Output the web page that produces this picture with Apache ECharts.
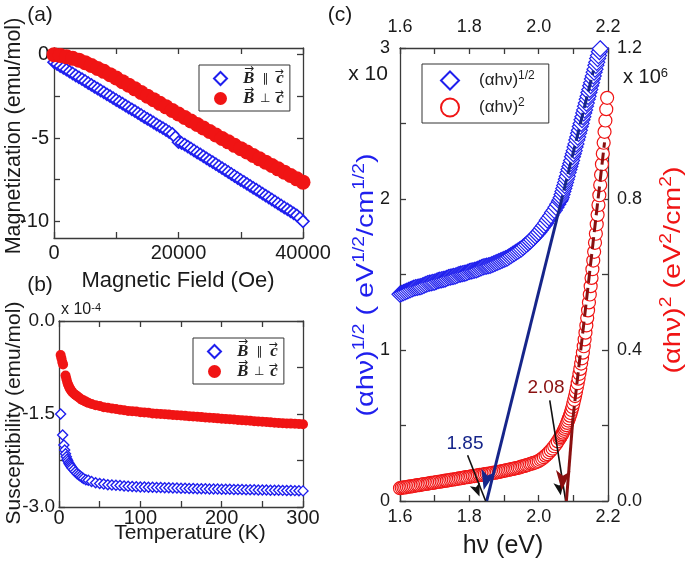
<!DOCTYPE html>
<html>
<head>
<meta charset="utf-8">
<script src="https://cdn.jsdelivr.net/npm/echarts@6/dist/echarts.min.js"></script>
<style>
  html, body { margin: 0; padding: 0; background: #fff; }
  #chart { width: 685px; height: 561px; }
</style>
</head>
<body>
<div id="chart"></div>
<script>
// ---- (a) magnetization vs field, emu/mol ----
var fieldPar = [0, 500, 1000, 1500, 2000, 2500, 3000, 3500, 4000, 4500, 5000, 5500, 6000, 6500,
  7000, 7500, 8000, 8500, 9000, 9500, 10000, 10500, 11000, 11500, 12000, 12500, 13000, 13500,
  14000, 14500, 15000, 15500, 16000, 16500, 17000, 17500, 18000, 18500, 19000, 19500, 20000,
  20500, 21000, 21500, 22000, 22500, 23000, 23500, 24000, 24500, 25000, 25500, 26000, 26500,
  27000, 27500, 28000, 28500, 29000, 29500, 30000, 30500, 31000, 31500, 32000, 32500, 33000,
  33500, 34000, 34500, 35000, 35500, 36000, 36500, 37000, 37500, 38000, 38500, 39000, 39500, 40000];
var magPar = [-0.45, -0.56, -0.68, -0.79, -0.9, -1.02, -1.13, -1.25, -1.36, -1.47, -1.58, -1.7,
  -1.81, -1.93, -2.04, -2.15, -2.26, -2.38, -2.49, -2.61, -2.72, -2.83, -2.94, -3.06, -3.17,
  -3.28, -3.39, -3.51, -3.62, -3.74, -3.85, -3.96, -4.07, -4.19, -4.3, -4.41, -4.52, -4.64,
  -4.75, -4.95, -5.25, -5.3, -5.4, -5.52, -5.63, -5.75, -5.87, -5.98, -6.1, -6.22, -6.34,
  -6.45, -6.57, -6.69, -6.81, -6.92, -7.04, -7.16, -7.28, -7.4, -7.52, -7.63, -7.75, -7.87,
  -7.99, -8.1, -8.22, -8.34, -8.46, -8.57, -8.69, -8.81, -8.93, -9.05, -9.17, -9.28, -9.4,
  -9.52, -9.64, -9.8, -10.0];
var fieldPerp = [0, 1000, 2000, 3000, 4000, 5000, 6000, 7000, 8000, 9000, 10000,
  11000, 12000, 13000, 14000, 15000, 16000, 17000, 18000, 19000, 20000,
  21000, 22000, 23000, 24000, 25000, 26000, 27000, 28000, 29000, 30000,
  31000, 32000, 33000, 34000, 35000, 36000, 37000, 38000, 39000, 40000];
var magPerp = [0, -0.05, -0.12, -0.22, -0.33, -0.48, -0.65, -0.83, -1.0, -1.2, -1.4,
  -1.62, -1.83, -2.05, -2.27, -2.49, -2.7, -2.92, -3.13, -3.35, -3.56,
  -3.77, -3.98, -4.19, -4.4, -4.61, -4.82, -5.03, -5.23, -5.44, -5.64,
  -5.84, -6.05, -6.25, -6.45, -6.65, -6.85, -7.05, -7.25, -7.45, -7.65];

// ---- (b) susceptibility vs temperature, x 1e-4 emu/mol ----
var tempPar = [2, 4.5, 6, 7, 8, 9, 10, 11, 12, 13, 14, 15, 16, 18, 20, 22, 24, 26, 28, 30,
  33, 36, 40, 45, 50, 55, 60, 65, 70, 75, 80, 85, 90, 95, 100,
  105, 110, 115, 120, 125, 130, 135, 140, 145, 150, 155, 160, 165, 170, 175, 180,
  185, 190, 195, 200, 205, 210, 215, 220, 225, 230, 235, 240, 245, 250, 255, 260,
  265, 270, 275, 280, 285, 290, 295, 300];
var chiPar = [-1.5, -1.84, -2.0, -2.08, -2.14, -2.19, -2.23, -2.26, -2.29, -2.31, -2.33, -2.35,
  -2.37, -2.4, -2.43, -2.46, -2.48, -2.5, -2.52, -2.54, -2.56, -2.57, -2.59, -2.61, -2.62,
  -2.63, -2.64, -2.645, -2.65, -2.655, -2.66, -2.665, -2.67, -2.673, -2.676,
  -2.678, -2.68, -2.682, -2.684, -2.686, -2.688, -2.69, -2.692, -2.694, -2.696, -2.698,
  -2.7, -2.702, -2.704, -2.705, -2.706, -2.708, -2.709, -2.71, -2.712, -2.713, -2.714,
  -2.716, -2.717, -2.718, -2.72, -2.721, -2.722, -2.724, -2.725, -2.726, -2.728, -2.729,
  -2.73, -2.732, -2.733, -2.735, -2.736, -2.738, -2.74];
var tempPerp = [2, 3, 4, 5, 8, 9, 10, 11, 12, 13, 14, 15, 16, 18, 20, 22, 24, 26, 28, 30,
  33, 36, 40, 45, 50, 55, 60, 65, 70, 75, 80, 85, 90, 95, 100,
  105, 110, 115, 120, 125, 130, 135, 140, 145, 150, 155, 160, 165, 170, 175, 180,
  185, 190, 195, 200, 205, 210, 215, 220, 225, 230, 235, 240, 245, 250, 255, 260,
  265, 270, 275, 280, 285, 290, 295, 300];
var chiPerp = [-0.55, -0.6, -0.66, -0.7, -0.88, -0.93, -0.98, -1.02, -1.05, -1.08, -1.1, -1.12,
  -1.14, -1.17, -1.19, -1.21, -1.23, -1.25, -1.27, -1.28, -1.3, -1.32, -1.34, -1.36, -1.37,
  -1.39, -1.4, -1.41, -1.42, -1.43, -1.44, -1.45, -1.455, -1.46, -1.47,
  -1.475, -1.48, -1.49, -1.495, -1.5, -1.505, -1.51, -1.515, -1.52, -1.525, -1.53,
  -1.535, -1.54, -1.545, -1.55, -1.555, -1.56, -1.565, -1.57, -1.575, -1.58, -1.585,
  -1.59, -1.595, -1.6, -1.605, -1.61, -1.615, -1.62, -1.625, -1.63, -1.635, -1.64,
  -1.645, -1.65, -1.652, -1.655, -1.658, -1.66, -1.665];

// ---- (c) Tauc plot: photon energy (eV) ----
var energy = [1.600, 1.605, 1.610, 1.615, 1.620, 1.625, 1.630, 1.635, 1.640, 1.645, 1.650,
  1.655, 1.660, 1.665, 1.670, 1.675, 1.680, 1.685, 1.690, 1.695, 1.700, 1.705, 1.710, 1.715,
  1.720, 1.725, 1.730, 1.735, 1.740, 1.745, 1.750, 1.755, 1.760, 1.765, 1.770, 1.775, 1.780,
  1.785, 1.790, 1.795, 1.800, 1.805, 1.810, 1.815, 1.820, 1.825, 1.830, 1.835, 1.840, 1.845,
  1.850, 1.855, 1.860, 1.865, 1.870, 1.875, 1.880, 1.885, 1.890, 1.895, 1.900, 1.905, 1.910,
  1.915, 1.920, 1.925, 1.930, 1.935, 1.940, 1.945, 1.950, 1.955, 1.960, 1.965, 1.970, 1.975,
  1.980, 1.985, 1.990, 1.995, 2.000,
  2.005, 2.01, 2.015, 2.02, 2.025, 2.03, 2.035, 2.04, 2.045, 2.05, 2.055, 2.06,
  2.0625, 2.065, 2.0675, 2.07, 2.0725, 2.075, 2.0775, 2.08, 2.0825, 2.085, 2.0875, 2.09,
  2.0925, 2.095, 2.0975, 2.10, 2.1025, 2.105, 2.1075, 2.11, 2.1125, 2.115, 2.1175, 2.12,
  2.1225, 2.125, 2.1275, 2.13, 2.1325, 2.135, 2.1375, 2.14, 2.1425, 2.145, 2.1475, 2.15,
  2.1525, 2.155, 2.1575, 2.16, 2.1625, 2.165, 2.1675, 2.17, 2.1725, 2.175, 2.1775, 2.18,
  2.1825, 2.185, 2.1875, 2.19, 2.1925, 2.195, 2.1975];
// (ahv)^1/2, units of 10 eV^1/2/cm^1/2
var ahvHalf = [1.37, 1.375, 1.38, 1.385, 1.39, 1.395, 1.40, 1.405, 1.41, 1.413, 1.415,
  1.418, 1.42, 1.425, 1.43, 1.435, 1.44, 1.443, 1.445, 1.448, 1.45, 1.455, 1.46, 1.463,
  1.465, 1.468, 1.47, 1.475, 1.48, 1.483, 1.485, 1.488, 1.49, 1.495, 1.50, 1.503, 1.505,
  1.508, 1.51, 1.515, 1.52, 1.523, 1.525, 1.528, 1.53, 1.535, 1.54, 1.545, 1.55, 1.553,
  1.555, 1.558, 1.56, 1.565, 1.57, 1.575, 1.58, 1.585, 1.59, 1.595, 1.60, 1.605, 1.61,
  1.618, 1.625, 1.633, 1.64, 1.648, 1.655, 1.663, 1.67, 1.68, 1.69, 1.70, 1.71, 1.72,
  1.73, 1.743, 1.755, 1.768, 1.78,
  1.795, 1.81, 1.825, 1.84, 1.86, 1.875, 1.89, 1.91, 1.925, 1.945, 1.965, 1.985,
  1.995, 2.01, 2.03, 2.05, 2.07, 2.09, 2.11, 2.13, 2.15, 2.175, 2.195, 2.215,
  2.235, 2.255, 2.28, 2.30, 2.32, 2.345, 2.365, 2.39, 2.41, 2.435, 2.455, 2.48,
  2.50, 2.525, 2.545, 2.57, 2.59, 2.615, 2.635, 2.66, 2.68, 2.705, 2.725, 2.75,
  2.77, 2.795, 2.815, 2.84, 2.86, 2.885, 2.905, 2.93, 2.95, 2.975, 2.995, 3.02,
  3.04, 3.065, 3.085, 3.11, 3.13, 3.155, 3.18];
// (ahv)^2, units of 1e6 eV^2/cm^2
var ahvSq = [0.034, 0.035, 0.036, 0.036, 0.037, 0.038, 0.039, 0.039, 0.040, 0.041, 0.042,
  0.042, 0.043, 0.044, 0.045, 0.045, 0.046, 0.047, 0.048, 0.048, 0.049, 0.050, 0.051, 0.051,
  0.052, 0.053, 0.054, 0.054, 0.055, 0.056, 0.057, 0.057, 0.058, 0.059, 0.060, 0.060, 0.061,
  0.062, 0.063, 0.063, 0.064, 0.065, 0.066, 0.066, 0.067, 0.068, 0.069, 0.069, 0.070, 0.071,
  0.072, 0.072, 0.073, 0.074, 0.075, 0.075, 0.076, 0.077, 0.078, 0.079, 0.080, 0.081, 0.082,
  0.083, 0.084, 0.085, 0.086, 0.087, 0.088, 0.089, 0.091, 0.092, 0.093, 0.095, 0.096, 0.098,
  0.099, 0.101, 0.102, 0.104, 0.106,
  0.109, 0.112, 0.116, 0.120, 0.124, 0.129, 0.134, 0.139, 0.145, 0.151, 0.158, 0.165,
  0.169, 0.173, 0.177, 0.181, 0.186, 0.191, 0.196, 0.201, 0.207, 0.213, 0.219, 0.226,
  0.233, 0.241, 0.249, 0.258, 0.268, 0.278, 0.289, 0.300, 0.312, 0.324, 0.337, 0.350,
  0.364, 0.378, 0.393, 0.410, 0.428, 0.446, 0.465, 0.485, 0.505, 0.526, 0.547, 0.569,
  0.591, 0.614, 0.637, 0.660, 0.684, 0.708, 0.733, 0.758, 0.784, 0.810, 0.837, 0.864,
  0.892, 0.920, 0.949, 0.978, 1.008, 1.038, 1.068];

// linear fits [eV, value]: x-intercept, end of extrapolation, top of fit
var fitHalf = [[1.85, 0], [2.061, 1.947], [2.158, 2.85]];
var fitSq = [[2.08, 0], [2.099, 0.22], [2.19, 0.95]];
// black pointer arrows (left-axis units)
var pointer185 = [[1.795, 0.303], [1.847, 0]];
var pointer208 = [[2.032, 0.667], [2.078, 0]];
var gapLabels = ['1.85', '2.08'];

var FONT = 'Liberation Sans';
var AX = '#3a3a3a';
var BLUE = '#1f1fee', RED = '#f01414', NAVY = '#16258a', MAROON = '#8a1010';

function zip(xs, ys) {
  return xs.map(function (x, i) { return [x, ys[i]]; });
}

function valueAxis(o) {
  var ax = {
    type: 'value', gridIndex: o.grid, position: o.pos,
    min: o.min, max: o.max, interval: o.interval,
    axisLine: { show: true, onZero: false, lineStyle: { color: AX, width: 1.3 } },
    axisTick: { show: true, inside: true, length: 6, lineStyle: { color: AX, width: 1.3 } },
    splitLine: { show: false },
    axisLabel: {
      show: !!(o.fmt || o.labels), margin: o.margin, fontSize: o.size,
      fontFamily: FONT, color: '#1a1a1a', formatter: o.fmt
    }
  };
  if (o.ticks) ax.axisTick.customValues = o.ticks;
  if (o.labels) ax.axisLabel.customValues = o.labels;
  return ax;
}

var evenTenth = function (v) { return Math.round(v * 10) % 2 === 0 ? v.toFixed(1) : ''; };

function txt(text, x, y, size, color, extra) {
  var el = {
    type: 'text', x: x, y: y, silent: true,
    style: {
      text: text, fontSize: size, fontFamily: FONT, fill: color || '#1a1a1a',
      align: 'center', verticalAlign: 'middle'
    }
  };
  if (extra) {
    for (var k in extra.el || {}) el[k] = extra.el[k];
    for (var s in extra.style || {}) el.style[s] = extra.style[s];
  }
  return el;
}

var legendRich = {
  v: { fontFamily: 'Liberation Serif', fontWeight: 'bold', fontStyle: 'italic', fontSize: 17, lineHeight: 18, color: '#222' },
  o: { fontFamily: 'DejaVu Sans', fontSize: 12, lineHeight: 18, color: '#222', width: 22, align: 'center' }
};
function bLegend(left, top) {
  return {
    left: left, top: top, orient: 'vertical', selectedMode: false,
    data: ['par', 'perp'],
    borderColor: '#333', borderWidth: 1, padding: [5, 6, 4, 14],
    itemWidth: 13, itemHeight: 13, itemGap: 3,
    formatter: function (n) {
      return n === 'par' ? '{v|B}{o|\u2225}{v|c}' : '{v|B}{o|\u22A5}{v|c}';
    },
    textStyle: { padding: [0, 0, 0, 11], rich: legendRich }
  };
}
// vector arrows drawn over the B and c letters of a legend
function legendArrows(left, top) {
  var out = [];
  [top + 14, top + 35].forEach(function (row) {
    out.push(txt('\u2192', left + 50, row - 10, 12, '#222', { style: { fontFamily: 'DejaVu Sans' } }));
    out.push(txt('\u2192', left + 80, row - 7, 11, '#222', { style: { fontFamily: 'DejaVu Sans' } }));
  });
  return out;
}

var chart = echarts.init(document.getElementById('chart'));

var option = {
  animation: false,
  backgroundColor: '#fff',
  textStyle: { fontFamily: FONT },
  grid: [
    { left: 54, top: 48, width: 249, height: 190, containLabel: false, outerBoundsMode: 'none' },
    { left: 59, top: 321, width: 244, height: 186, containLabel: false, outerBoundsMode: 'none' },
    { left: 400, top: 48, width: 208, height: 453, containLabel: false, outerBoundsMode: 'none' }
  ],
  xAxis: [
    valueAxis({ grid: 0, pos: 'bottom', min: 0, max: 40000, interval: 10000, margin: 5, size: 20,
      fmt: function (v) { return v % 20000 === 0 ? String(v) : ''; } }),
    valueAxis({ grid: 0, pos: 'top', min: 0, max: 40000, interval: 10000 }),
    valueAxis({ grid: 1, pos: 'bottom', min: 0, max: 300, interval: 50, margin: 1, size: 20,
      fmt: function (v) { return v % 100 === 0 ? String(v) : ''; } }),
    valueAxis({ grid: 1, pos: 'top', min: 0, max: 300, interval: 50 }),
    valueAxis({ grid: 2, pos: 'bottom', min: 1.6, max: 2.2, interval: 0.1, margin: 7, size: 18, fmt: evenTenth }),
    valueAxis({ grid: 2, pos: 'top', min: 1.6, max: 2.2, interval: 0.1, margin: 12, size: 18, fmt: evenTenth })
  ],
  yAxis: [
    valueAxis({ grid: 0, pos: 'left', min: -11, max: 0.4, ticks: [0, -2.5, -5, -7.5, -10],
      labels: [0, -5, -10], margin: 5, size: 20 }),
    valueAxis({ grid: 0, pos: 'right', min: -11, max: 0.4, ticks: [0, -2.5, -5, -7.5, -10] }),
    valueAxis({ grid: 1, pos: 'left', min: -3, max: 0, interval: 0.75, margin: 4, size: 19,
      fmt: function (v) { return Math.abs(v % 1.5) < 1e-9 ? v.toFixed(1) : ''; } }),
    valueAxis({ grid: 1, pos: 'right', min: -3, max: 0, interval: 0.75 }),
    valueAxis({ grid: 2, pos: 'left', min: 0, max: 3, interval: 0.5, margin: 10, size: 18,
      fmt: function (v) { return Math.abs(v - Math.round(v)) < 1e-9 ? String(Math.round(v)) : ''; } }),
    valueAxis({ grid: 2, pos: 'right', min: 0, max: 1.2, interval: 0.2, margin: 9, size: 18,
      fmt: function (v) { return Math.round(v * 5) % 2 === 0 ? v.toFixed(1) : ''; } })
  ],
  legend: [
    bLegend(199, 65),
    bLegend(193, 338),
    {
      left: 422, top: 64, orient: 'vertical', selectedMode: false,
      data: ['half', 'sq'],
      borderColor: '#333', borderWidth: 1, padding: [6, 14, 5, 18],
      itemWidth: 18, itemHeight: 18, itemGap: 6,
      formatter: function (n) { return n === 'half' ? '(\u03B1h\u03BD){s|1/2}' : '(\u03B1h\u03BD){s|2}'; },
      textStyle: {
        fontSize: 17, lineHeight: 21, color: '#222', padding: [0, 0, 0, 15],
        rich: { s: { fontSize: 12, lineHeight: 12, verticalAlign: 'top', color: '#222' } }
      }
    }
  ],
  series: [
    { name: 'par', type: 'scatter', xAxisIndex: 0, yAxisIndex: 0, silent: true,
      symbol: 'diamond', symbolSize: 12, data: zip(fieldPar, magPar),
      itemStyle: { color: '#fff', borderColor: BLUE, borderWidth: 1.6, opacity: 1 } },
    { name: 'perp', type: 'scatter', xAxisIndex: 0, yAxisIndex: 0, silent: true,
      symbol: 'circle', symbolSize: 15, data: zip(fieldPerp, magPerp),
      itemStyle: { color: RED, opacity: 1 } },
    { name: 'par', type: 'scatter', xAxisIndex: 2, yAxisIndex: 2, silent: true,
      symbol: 'diamond', symbolSize: 10, data: zip(tempPar, chiPar),
      itemStyle: { color: '#fff', borderColor: BLUE, borderWidth: 1.4, opacity: 1 } },
    { name: 'perp', type: 'scatter', xAxisIndex: 2, yAxisIndex: 2, silent: true,
      symbol: 'circle', symbolSize: 10, data: zip(tempPerp, chiPerp),
      itemStyle: { color: RED, opacity: 1 } },
    { name: 'half', type: 'scatter', xAxisIndex: 4, yAxisIndex: 4, silent: true,
      symbol: 'diamond', symbolSize: 16, data: zip(energy, ahvHalf),
      itemStyle: { color: '#fff', borderColor: BLUE, borderWidth: 1.2, opacity: 1 } },
    { name: 'sq', type: 'scatter', xAxisIndex: 4, yAxisIndex: 5, silent: true,
      symbol: 'circle', symbolSize: 13, data: zip(energy, ahvSq),
      itemStyle: { color: '#fff', borderColor: RED, borderWidth: 1.2, opacity: 1 } },
    { type: 'line', xAxisIndex: 4, yAxisIndex: 4, data: [], silent: true, z: 5,
      markLine: {
        silent: true, animation: false, symbol: 'none', symbolOffset: [0, '50%'],
        label: { show: false }, emphasis: { disabled: true },
        data: [
          [{ coord: fitHalf[1], symbol: 'none', lineStyle: { color: NAVY, width: 3, type: 'solid' } },
           { coord: fitHalf[0], symbol: 'arrow', symbolSize: [11, 20] }],
          [{ coord: fitHalf[1], symbol: 'none', lineStyle: { color: NAVY, width: 3, type: [12, 5] } },
           { coord: fitHalf[2], symbol: 'none' }],
          [{ coord: pointer185[0], symbol: 'none', lineStyle: { color: '#111', width: 1.6, type: 'solid' } },
           { coord: pointer185[1], symbol: 'arrow', symbolSize: [8, 13] }],
          [{ coord: pointer208[0], symbol: 'none', lineStyle: { color: '#111', width: 1.6, type: 'solid' } },
           { coord: pointer208[1], symbol: 'arrow', symbolSize: [8, 13] }]
        ]
      } },
    { type: 'line', xAxisIndex: 4, yAxisIndex: 5, data: [], silent: true, z: 5,
      markLine: {
        silent: true, animation: false, symbol: 'none', symbolOffset: [0, '50%'],
        label: { show: false }, emphasis: { disabled: true },
        data: [
          [{ coord: fitSq[1], symbol: 'none', lineStyle: { color: MAROON, width: 3, type: 'solid' } },
           { coord: fitSq[0], symbol: 'arrow', symbolSize: [11, 20] }],
          [{ coord: fitSq[1], symbol: 'none', lineStyle: { color: MAROON, width: 3, type: [12, 5] } },
           { coord: fitSq[2], symbol: 'none' }]
        ]
      } }
  ],
  graphic: [
    txt('(a)', 40, 15, 21),
    txt('(b)', 40, 285, 21),
    txt('(c)', 340, 15, 21),
    txt('Magnetization (emu/mol)', 14, 136, 21.5, null, { el: { rotation: Math.PI / 2 } }),
    txt('Magnetic Field (Oe)', 178, 281, 22),
    txt('Susceptibility (emu/mol)', 14, 413, 21, null, { el: { rotation: Math.PI / 2 } }),
    txt('Temperature (K)', 190, 533, 21),
    txt('x 10{s|-4}', 61, 310, 16, null, { style: { align: 'left',
      rich: { s: { fontSize: 11, lineHeight: 11, verticalAlign: 'top', fill: '#1a1a1a' } } } }),
    txt('x 10', 368, 74, 21),
    txt('x 10{s|6}', 623, 77, 20, null, { style: { align: 'left',
      rich: { s: { fontSize: 13, lineHeight: 13, verticalAlign: 'top', fill: '#1a1a1a' } } } }),
    txt('h\u03BD (eV)', 503, 546, 25),
    txt('(\u03B1h\u03BD){s|1/2} ( eV{s|1/2}/cm{s|1/2})', 366, 285, 24, BLUE, {
      el: { rotation: Math.PI / 2, scaleX: 1.2 },
      style: { lineHeight: 28, rich: { s: { fontSize: 16, lineHeight: 16, verticalAlign: 'top', fill: BLUE } } } }),
    txt('(\u03B1h\u03BD){s|2} (eV{s|2}/cm{s|2})', 673, 270, 24, RED, {
      el: { rotation: Math.PI / 2, scaleX: 1.2 },
      style: { lineHeight: 28, rich: { s: { fontSize: 16, lineHeight: 16, verticalAlign: 'top', fill: RED } } } }),
    txt(gapLabels[0], 465, 444, 19, NAVY),
    txt(gapLabels[1], 546, 388, 19, MAROON)
  ].concat(legendArrows(199, 65), legendArrows(193, 338))
};

chart.setOption(option);
</script>
</body>
</html>
